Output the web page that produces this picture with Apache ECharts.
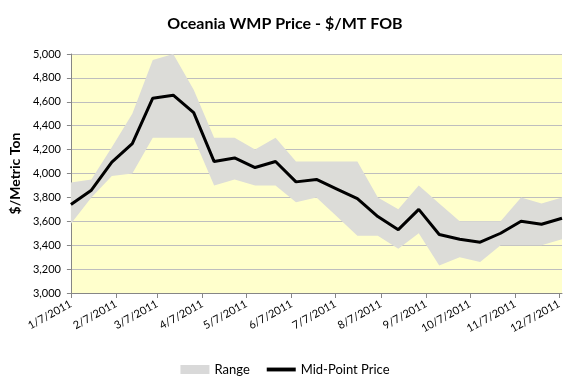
<!DOCTYPE html>
<html>
<head>
<meta charset="utf-8">
<script src="https://cdn.jsdelivr.net/npm/echarts@6/dist/echarts.min.js"></script>
<style>html,body{margin:0;padding:0;background:#fff}#c{width:570px;height:382px}</style>
</head>
<body>
<div id="c"></div>
<script>
// Biweekly observation dates
const dates = ['2011-01-07','2011-01-21','2011-02-04','2011-02-18','2011-03-04','2011-03-18','2011-04-01','2011-04-15','2011-04-29','2011-05-13','2011-05-27','2011-06-10','2011-06-24','2011-07-08','2011-07-22','2011-08-05','2011-08-19','2011-09-02','2011-09-16','2011-09-30','2011-10-14','2011-10-28','2011-11-11','2011-11-25','2011-12-09'];
const midPrice = [3740,3860,4095,4250,4630,4655,4510,4100,4130,4050,4100,3930,3950,3870,3790,3640,3530,3700,3490,3450,3425,3500,3600,3575,3625];
const rangeLow = [3580,3800,3980,4000,4300,4300,4300,3900,3950,3900,3900,3760,3800,3640,3480,3480,3370,3500,3230,3300,3260,3400,3400,3400,3450];
const rangeHigh = [3925,3950,4220,4500,4950,5000,4700,4300,4300,4200,4300,4100,4100,4100,4100,3800,3700,3900,3750,3600,3600,3600,3800,3750,3800];
const tickDates = ['2011-01-07','2011-02-07','2011-03-07','2011-04-07','2011-05-07','2011-06-07','2011-07-07','2011-08-07','2011-09-07','2011-10-07','2011-11-07','2011-12-07'];
const yTicks = [3000,3200,3400,3600,3800,4000,4200,4400,4600,4800,5000];

const ts = s => { const p = s.split('-').map(Number); return Date.UTC(p[0], p[1]-1, p[2]); };
const fmtDate = v => { const d = new Date(v); return (d.getUTCMonth()+1) + '/' + d.getUTCDate() + '/' + d.getUTCFullYear(); };
const X = dates.map(ts);
const FONT = 'Lato, "Open Sans", sans-serif';
const BAND = '#DCDCD8';

const chart = echarts.init(document.getElementById('c'), null, {renderer:'canvas'});
chart.setOption({
  animation: false,
  backgroundColor: '#ffffff',
  textStyle: {fontFamily: FONT},
  title: {
    text: 'Oceania WMP Price - $/MT FOB',
    left: 'center', top: 11,
    textStyle: {fontFamily: FONT, fontSize: 16, fontWeight: 'bold', color: '#000'}
  },
  legend: {
    bottom: 1, left: 'center',
    itemWidth: 29, itemHeight: 9, itemGap: 17,
    textStyle: {fontFamily: FONT, fontSize: 13, color: '#000'},
    data: [
      {name: 'Range', icon: 'rect', itemStyle: {color: '#D9D9D9'}},
      {name: 'Mid-Point Price', icon: 'path://M0,0 L30,0 L30,4 L0,4 Z', itemStyle: {color: '#000'}}
    ]
  },
  grid: {
    left: 64, right: 8, top: 54, bottom: 89,
    show: true, backgroundColor: '#FFFFCC', borderWidth: 0
  },
  xAxis: {
    type: 'value',
    min: ts(dates[0]), max: ts(dates[dates.length-1]),
    axisLine: {show: true, lineStyle: {color: '#868686', width: 1}},
    axisTick: {show: true, length: 5, lineStyle: {color: '#868686'}, customValues: tickDates.map(ts)},
    axisLabel: {
      customValues: tickDates.map(ts),
      formatter: v => fmtDate(v),
      rotate: 29, fontFamily: FONT, fontSize: 11, color: '#000', margin: 10
    },
    splitLine: {show: false}
  },
  yAxis: {
    type: 'value', min: 3000, max: 5000, interval: 200,
    name: '$/Metric Ton', nameLocation: 'middle', nameGap: 47,
    nameTextStyle: {fontFamily: FONT, fontSize: 14, fontWeight: 'bold', color: '#000'},
    axisLine: {show: true, lineStyle: {color: '#868686', width: 1}},
    axisTick: {show: true, length: 4, inside: false, lineStyle: {color: '#868686'}},
    axisLabel: {
      fontFamily: FONT, fontSize: 11, color: '#000', margin: 10,
      formatter: v => yTicks.includes(v) ? v.toLocaleString('en-US') : ''
    },
    splitLine: {show: true, lineStyle: {color: '#BEBEBE', width: 1}}
  },
  series: [
    {
      name: 'Range', type: 'custom', z: 2,
      itemStyle: {color: BAND},
      data: X.map((x, i) => [x, rangeLow[i], rangeHigh[i]]),
      renderItem: function (params, api) {
        if (params.dataIndex !== 0) return null;
        const top = X.map((x, i) => api.coord([x, rangeHigh[i]]));
        const bot = X.map((x, i) => api.coord([x, rangeLow[i]])).reverse();
        return {
          type: 'polygon',
          shape: {points: top.concat(bot)},
          style: {fill: BAND, stroke: null}
        };
      }
    },
    {
      name: 'Mid-Point Price', type: 'line', symbol: 'none', z: 5,
      lineStyle: {color: '#000', width: 3}, itemStyle: {color: '#000'},
      data: X.map((x, i) => [x, midPrice[i]])
    }
  ]
});
</script>
</body>
</html>
